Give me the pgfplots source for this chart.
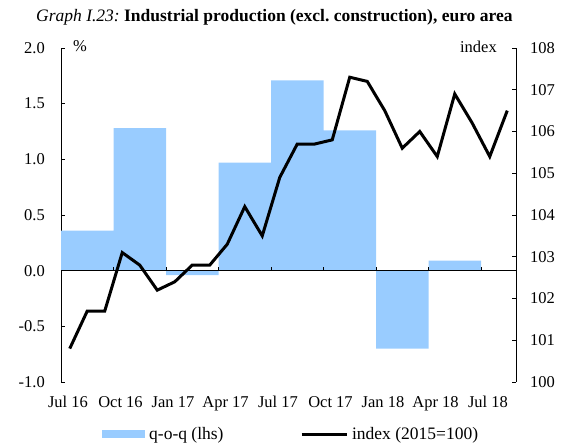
\documentclass[border=0pt]{standalone}
\usepackage{pgfplots}
\pgfplotsset{compat=1.18}
\usepackage{fontspec}
\setmainfont{Liberation Serif}
\definecolor{barblue}{RGB}{153,204,255}
\frenchspacing
\begin{document}
\begin{tikzpicture}
\pgfplotsset{
  myaxis/.style={
    scale only axis, width=455bp, height=334bp,
    at={(0,0)}, anchor=south west,
    xmin=0, xmax=26,
    clip=false,
    font=\fontsize{16.5bp}{20bp}\selectfont,
    tick align=inside,
    major tick length=4bp,
    axis line style={-, black, line width=0.8bp},
    tick style={black, line width=0.8bp},
  }
}
\begin{axis}[
  myaxis,
  ymin=-1, ymax=2,
  axis y line*=left, axis x line*=bottom,
  x axis line style={draw=none},
  xtick={0.4,3.4,6.4,9.4,12.4,15.4,18.4,21.4,24.4},
  xticklabels={Jul 16,Oct 16,Jan 17,Apr 17,Jul 17,Oct 17,Jan 18,Apr 18,Jul 18},
  x tick style={draw=none},
  xticklabel style={inner sep=0pt, anchor=north, yshift=-14bp},
  ytick={-1,-0.5,0,0.5,1,1.5,2},
  yticklabels={-1.0,-0.5,0.0,0.5,1.0,1.5,2.0},
  yticklabel style={inner sep=0pt, anchor=east, xshift=-16bp},
  legend columns=2,
  legend style={at={(axis description cs:0,0)}, anchor=west, xshift=41bp, yshift=-52bp,
    draw=none, inner sep=0pt, fill=none,
    nodes={inner sep=0pt, font=\fontsize{17.5bp}{21bp}\selectfont},
    /tikz/every odd column/.append style={column sep=4bp},
    /tikz/every even column/.append style={column sep=76.5bp}},
]
\addplot[ybar interval, fill=barblue, draw=none,
  legend image code/.code={\fill[barblue] (0bp,-4bp) rectangle (43bp,4bp);}]
  coordinates {(0,0.36) (3,1.28) (6,-0.04) (9,0.97) (12,1.71) (15,1.26) (18,-0.70) (21,0.09) (24,0.09)};
\addlegendentry{q-o-q (lhs)}
\addlegendimage{black, line width=3bp, legend image code/.code={\draw[black, line width=3bp] (0bp,0bp) -- (45bp,0bp);}}
\addlegendentry{index (2015=100)}
\draw[black, line width=0.8bp] (axis cs:0,0) -- (axis cs:26,0);
\pgfplotsinvokeforeach{3,6,9,12,15,18,21,24}{
  \draw[black, line width=0.8bp] (axis cs:#1,0) -- (axis cs:#1,0.036);
}
\node[anchor=base west, inner sep=0pt] at ([xshift=12bp, yshift=-4bp]rel axis cs:0,1) {\%};
\end{axis}
\begin{axis}[
  myaxis,
  ymin=100, ymax=108,
  axis y line*=right, axis x line=none,
  ytick={100,101,102,103,104,105,106,107,108},
  yticklabels={100,101,102,103,104,105,106,107,108},
  yticklabel style={inner sep=0pt, anchor=west, xshift=14bp},
]
\addplot[black, line width=3bp, line join=miter] coordinates {
(0.5,100.8) (1.5,101.7) (2.5,101.7) (3.5,103.1) (4.5,102.8) (5.5,102.2)
(6.5,102.4) (7.5,102.8) (8.5,102.8) (9.5,103.3) (10.5,104.2) (11.5,103.5)
(12.5,104.9) (13.5,105.7) (14.5,105.7) (15.5,105.8) (16.5,107.3) (17.5,107.2)
(18.5,106.5) (19.5,105.6) (20.5,106.0) (21.5,105.4) (22.5,106.9) (23.5,106.2)
(24.5,105.4) (25.5,106.5)};
\node[anchor=base east, inner sep=0pt] at ([xshift=-19bp, yshift=-4bp]rel axis cs:1,1) {index};
\end{axis}
\node[anchor=base west, inner sep=0pt, font=\fontsize{17.5bp}{20bp}\selectfont] at (-25bp,360bp)
  {\textit{Graph I.23:} \textbf{Industrial production (excl. construction), euro area}};
\pgfresetboundingbox
\path (-61bp,-62bp) rectangle (500bp,382bp);
\end{tikzpicture}
\end{document}
